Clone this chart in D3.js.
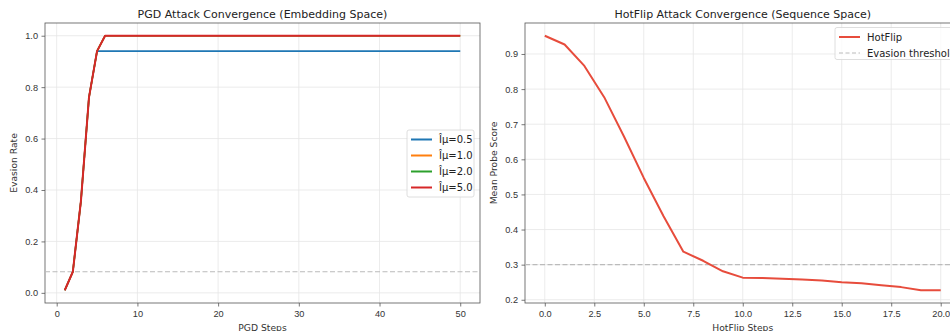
<!DOCTYPE html>
<html>
<head>
<meta charset="utf-8">
<script src="https://cdn.jsdelivr.net/npm/d3@7.9.0/dist/d3.min.js"></script>
<style>
  body { margin: 0; background: #fff; }
  svg { font-family: "DejaVu Sans", sans-serif; display: block; }
</style>
</head>
<body>
<svg id="chart" width="950" height="331"></svg>
<script>
/* --- Data: PGD panel --- */
const pgdSteps = d3.range(1, 51);
const pgdLabels = ['Îµ=0.5', 'Îµ=1.0', 'Îµ=2.0', 'Îµ=5.0'];
const pgdEarly = [0.01, 0.082, 0.357, 0.76, 0.94];      // steps 1..5, all eps
const pgdPlateau = [0.94, 1.0, 1.0, 1.0];               // value from step 6 on
const pgdThreshold = 0.082;
const pgdYTicks = [0.0, 0.2, 0.4, 0.6, 0.8, 1.0];
const pgdXTicks = [0, 10, 20, 30, 40, 50];

/* --- Data: HotFlip panel --- */
const hotSteps = d3.range(0, 21);
const hotScores = [0.952, 0.927, 0.866, 0.777, 0.665, 0.547, 0.438, 0.337, 0.311, 0.281,
                   0.263, 0.262, 0.260, 0.258, 0.255, 0.250, 0.247, 0.241, 0.236, 0.227, 0.227];
const hotThreshold = 0.3;
const hotYTicks = [0.2, 0.3, 0.4, 0.5, 0.6, 0.7, 0.8, 0.9];
const hotXTicks = [0, 2.5, 5, 7.5, 10, 12.5, 15, 17.5, 20];

const colors = ['#1f77b4', '#ff7f0e', '#2ca02c', '#d62728'];
const hotColor = '#e74c3c';

const svg = d3.select('#chart');

// matplotlib-like 5% margins around data extent
const padded = (lo, hi) => { const m = (hi - lo) * 0.05; return [lo - m, hi + m]; };

/* --- Panel scaffold: grid, spines, ticks, labels --- */
function drawAxes(box, x, y, xTicks, yTicks, xFmt, yFmt, title, xLabel, yLabel) {
  const g = svg.append('g');

  // grid
  g.selectAll('.gx').data(xTicks).enter().append('line')
    .attr('x1', d => x(d)).attr('x2', d => x(d))
    .attr('y1', box.top).attr('y2', box.bottom)
    .attr('stroke', '#e6e6e6').attr('stroke-width', 0.8);
  g.selectAll('.gy').data(yTicks).enter().append('line')
    .attr('x1', box.left).attr('x2', box.right)
    .attr('y1', d => y(d)).attr('y2', d => y(d))
    .attr('stroke', '#e6e6e6').attr('stroke-width', 0.8);

  // axes
  const xa = d3.axisBottom(x).tickValues(xTicks).tickFormat(xFmt).tickSize(3.5).tickPadding(3.5);
  const ya = d3.axisLeft(y).tickValues(yTicks).tickFormat(yFmt).tickSize(3.5).tickPadding(3.5);
  g.append('g').attr('transform', `translate(0,${box.bottom})`).call(xa);
  g.append('g').attr('transform', `translate(${box.left},0)`).call(ya);
  g.selectAll('.domain').remove();
  g.selectAll('.tick line').attr('stroke', '#555').attr('stroke-width', 0.8);
  g.selectAll('.tick text').attr('fill', '#333').style('font-size', '9.2px');

  // frame
  g.append('rect')
    .attr('x', box.left).attr('y', box.top)
    .attr('width', box.right - box.left).attr('height', box.bottom - box.top)
    .attr('fill', 'none').attr('stroke', '#555').attr('stroke-width', 0.8);

  // titles
  const cx = (box.left + box.right) / 2;
  g.append('text').attr('x', cx).attr('y', 18).attr('text-anchor', 'middle')
    .style('font-size', '11px').attr('fill', '#222').text(title);
  g.append('text').attr('x', cx).attr('y', 331).attr('text-anchor', 'middle')
    .style('font-size', '9.2px').attr('fill', '#333').text(xLabel);
  g.append('text').attr('transform', `translate(${box.left - 31},${(box.top + box.bottom) / 2}) rotate(-90)`)
    .attr('text-anchor', 'middle').attr('dy', '0.35em')
    .style('font-size', '9.2px').attr('fill', '#333').text(yLabel);
}

function drawLegend(x0, y0, w, h, items) {
  const g = svg.append('g');
  g.append('rect').attr('x', x0).attr('y', y0).attr('width', w).attr('height', h)
    .attr('rx', 2).attr('fill', 'rgba(255,255,255,0.8)').attr('stroke', '#d5d5d5').attr('stroke-width', 0.8);
  items.forEach((it, i) => {
    const cy = y0 + 9.5 + i * 16;
    g.append('line').attr('x1', x0 + 4).attr('x2', x0 + 25).attr('y1', cy).attr('y2', cy)
      .attr('stroke', it.color).attr('stroke-width', it.width)
      .attr('stroke-dasharray', it.dash || null);
    g.append('text').attr('x', x0 + 32).attr('y', cy).attr('dy', '0.35em')
      .style('font-size', '10px').attr('fill', '#222').text(it.label);
  });
}

/* --- Left panel: PGD --- */
const boxL = { left: 45, right: 480, top: 23, bottom: 303 };
const pgdSeries = pgdPlateau.map(p => pgdSteps.map((s, i) => ({ s, v: i < pgdEarly.length ? pgdEarly[i] : p })));
const xL = d3.scaleLinear().domain(padded(d3.min(pgdSteps), d3.max(pgdSteps))).range([boxL.left, boxL.right]);
const yL = d3.scaleLinear().domain(padded(d3.min(pgdEarly), 1.0)).range([boxL.bottom, boxL.top]);

drawAxes(boxL, xL, yL, pgdXTicks, pgdYTicks, d3.format('d'), d3.format('.1f'),
  'PGD Attack Convergence (Embedding Space)', 'PGD Steps', 'Evasion Rate');

svg.append('line')
  .attr('x1', boxL.left).attr('x2', boxL.right)
  .attr('y1', yL(pgdThreshold)).attr('y2', yL(pgdThreshold))
  .attr('stroke', '#bbb').attr('stroke-width', 1.2).attr('stroke-dasharray', '5,2.5');

const lineL = d3.line().x(d => xL(d.s)).y(d => yL(d.v));
pgdSeries.forEach((ser, i) => {
  // lower series slightly thinner so the top red line covers them cleanly
  svg.append('path').datum(ser).attr('d', lineL)
    .attr('fill', 'none').attr('stroke', colors[i])
    .attr('stroke-width', i === pgdSeries.length - 1 ? 2 : 1.6)
    .attr('stroke-linejoin', 'round');
});

drawLegend(407, 130, 67, 67, pgdLabels.map((l, i) => ({ label: l, color: colors[i], width: 2 })));

/* --- Right panel: HotFlip --- */
const boxR = { left: 525, right: 960.5, top: 23, bottom: 303 };
const xR = d3.scaleLinear().domain(padded(0, 20)).range([boxR.left, boxR.right]);
const yR = d3.scaleLinear().domain(padded(d3.min(hotScores), d3.max(hotScores))).range([boxR.bottom, boxR.top]);

drawAxes(boxR, xR, yR, hotXTicks, hotYTicks, d3.format('.1f'), d3.format('.1f'),
  'HotFlip Attack Convergence (Sequence Space)', 'HotFlip Steps', 'Mean Probe Score');

svg.append('line')
  .attr('x1', boxR.left).attr('x2', boxR.right)
  .attr('y1', yR(hotThreshold)).attr('y2', yR(hotThreshold))
  .attr('stroke', '#bbb').attr('stroke-width', 1.2).attr('stroke-dasharray', '5,2.5');

const lineR = d3.line().x((d, i) => xR(hotSteps[i])).y(d => yR(d));
svg.append('path').datum(hotScores).attr('d', lineR)
  .attr('fill', 'none').attr('stroke', hotColor).attr('stroke-width', 2)
  .attr('stroke-linejoin', 'round');

drawLegend(835, 27.5, 130, 32, [
  { label: 'HotFlip', color: hotColor, width: 2 },
  { label: 'Evasion threshold', color: '#bbb', width: 1.2, dash: '4,2.5' }
]);
</script>
</body>
</html>
